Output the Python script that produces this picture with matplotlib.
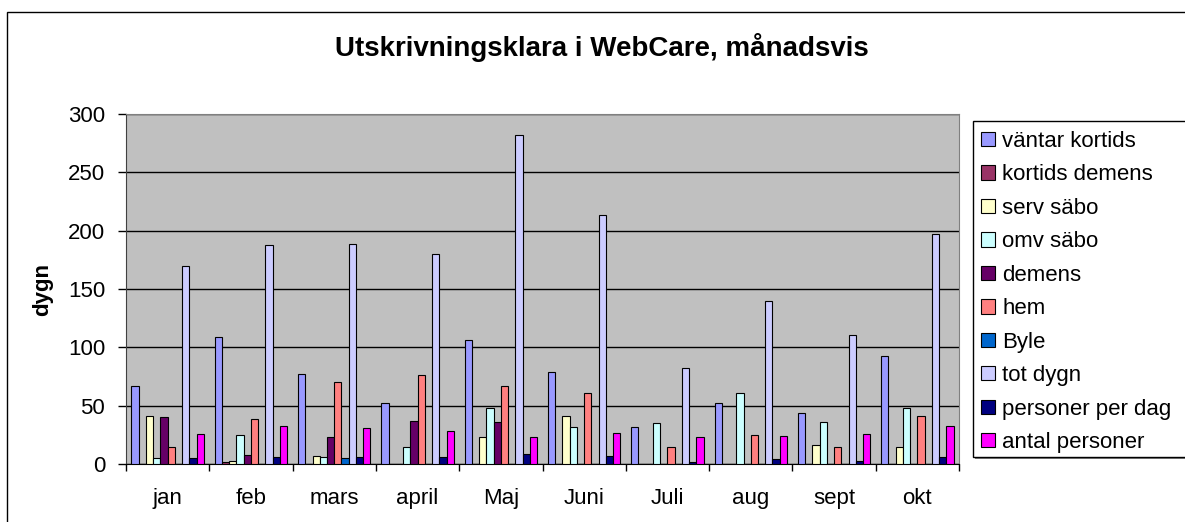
import numpy as np
import matplotlib
matplotlib.use('Agg')
import matplotlib.pyplot as plt
from matplotlib.patches import Rectangle

plt.rcParams['font.family'] = ['Liberation Sans', 'DejaVu Sans']

# data
months = ['jan', 'feb', 'mars', 'april', 'Maj', 'Juni', 'Juli', 'aug', 'sept', 'okt']
vantar_kortids = [67, 109, 77, 52, 106, 79, 32, 52, 44, 93]
kortids_demens = [0, 2, 0, 0, 0, 0, 0, 0, 0, 0]
serv_sabo = [41, 3, 7, 0, 23, 41, 0, 0, 16, 15]
omv_sabo = [5, 25, 6, 15, 48, 32, 35, 61, 36, 48]
demens = [40, 8, 23, 37, 36, 0, 0, 0, 0, 0]
hem = [15, 39, 70, 76, 67, 61, 15, 25, 15, 41]
byle = [0, 0, 5, 0, 0, 0, 0, 0, 0, 0]
tot_dygn = [170, 188, 189, 180, 282, 213, 82, 140, 111, 197]
personer_per_dag = [5, 6, 6, 6, 9, 7, 2, 4, 3, 6]
antal_personer = [26, 33, 31, 28, 23, 27, 23, 24, 26, 33]

series = [
    ('väntar kortids', vantar_kortids, '#9999FF'),
    ('kortids demens', kortids_demens, '#993366'),
    ('serv säbo', serv_sabo, '#FFFFCC'),
    ('omv säbo', omv_sabo, '#CCFFFF'),
    ('demens', demens, '#660066'),
    ('hem', hem, '#FF8080'),
    ('Byle', byle, '#0066CC'),
    ('tot dygn', tot_dygn, '#CCCCFF'),
    ('personer per dag', personer_per_dag, '#000080'),
    ('antal personer', antal_personer, '#FF00FF'),
]

W, H = 1185, 522
fig = plt.figure(figsize=(W / 100, H / 100), dpi=100)
ax = fig.add_axes([126 / W, 1 - 464 / H, (959 - 126) / W, (464 - 114) / H])
ax.set_facecolor('#C0C0C0')

# excel style: gap width 150%
x = np.arange(len(months))
w = 1 / 11.5
n = len(series)
for j, (name, vals, col) in enumerate(series):
    ax.bar(x + w * (j - (n - 1) / 2), vals, width=w, color=col,
           edgecolor='black', linewidth=0.8, label=name, zorder=3)

ax.set_ylim(0, 300)
ax.set_xlim(-0.5, len(months) - 0.5)
ax.set_yticks(np.arange(0, 301, 50))
ax.yaxis.grid(True, color='black', linewidth=1, zorder=0)
ax.set_axisbelow(True)

ax.set_xticks(x)
ax.set_xticklabels(months, fontsize=16)
ax.set_xticks(np.arange(-0.5, len(months), 1), minor=True)
ax.tick_params(axis='x', which='major', length=0, pad=17)
ax.tick_params(axis='x', which='minor', length=5, width=1, direction='out', color='black')
ax.tick_params(axis='y', labelsize=16, length=6, width=1, pad=9, color='black')

for s in ['top', 'right']:
    ax.spines[s].set_color('#808080')
ax.spines['left'].set_color('#404040')
ax.spines['bottom'].set_color('black')

fig.text(43 / W, 1 - 290 / H, 'dygn', rotation=90, ha='center', va='center',
         fontsize=16, fontweight='bold')
fig.text(602 / W, 1 - 48 / H, 'Utskrivningsklara i WebCare, månadsvis',
         ha='center', va='center', fontsize=20, fontweight='bold')

# outer chart border (cut off at right and bottom)
fig.patches.append(Rectangle((7 / W, -0.1), 1.2, 1 - 12 / H + 0.1,
                             transform=fig.transFigure, fill=False,
                             edgecolor='black', linewidth=1))

# legend box with shadow
fig.patches.append(Rectangle((975 / W, 1 - 459 / H), 0.3, (459 - 123) / H,
                             transform=fig.transFigure, facecolor='#808080',
                             edgecolor='none'))
fig.patches.append(Rectangle((973 / W, 1 - 457 / H), 0.3, (457 - 121) / H,
                             transform=fig.transFigure, facecolor='white',
                             edgecolor='black', linewidth=1))

fig.legend(loc='upper left', bbox_to_anchor=(981 / W, 1 - 131 / H),
           frameon=False, fontsize=16, borderpad=0, borderaxespad=0,
           handlelength=0.65, handleheight=0.62, handletextpad=0.3,
           labelspacing=0.56)

fig.savefig('out.png', dpi=100)
